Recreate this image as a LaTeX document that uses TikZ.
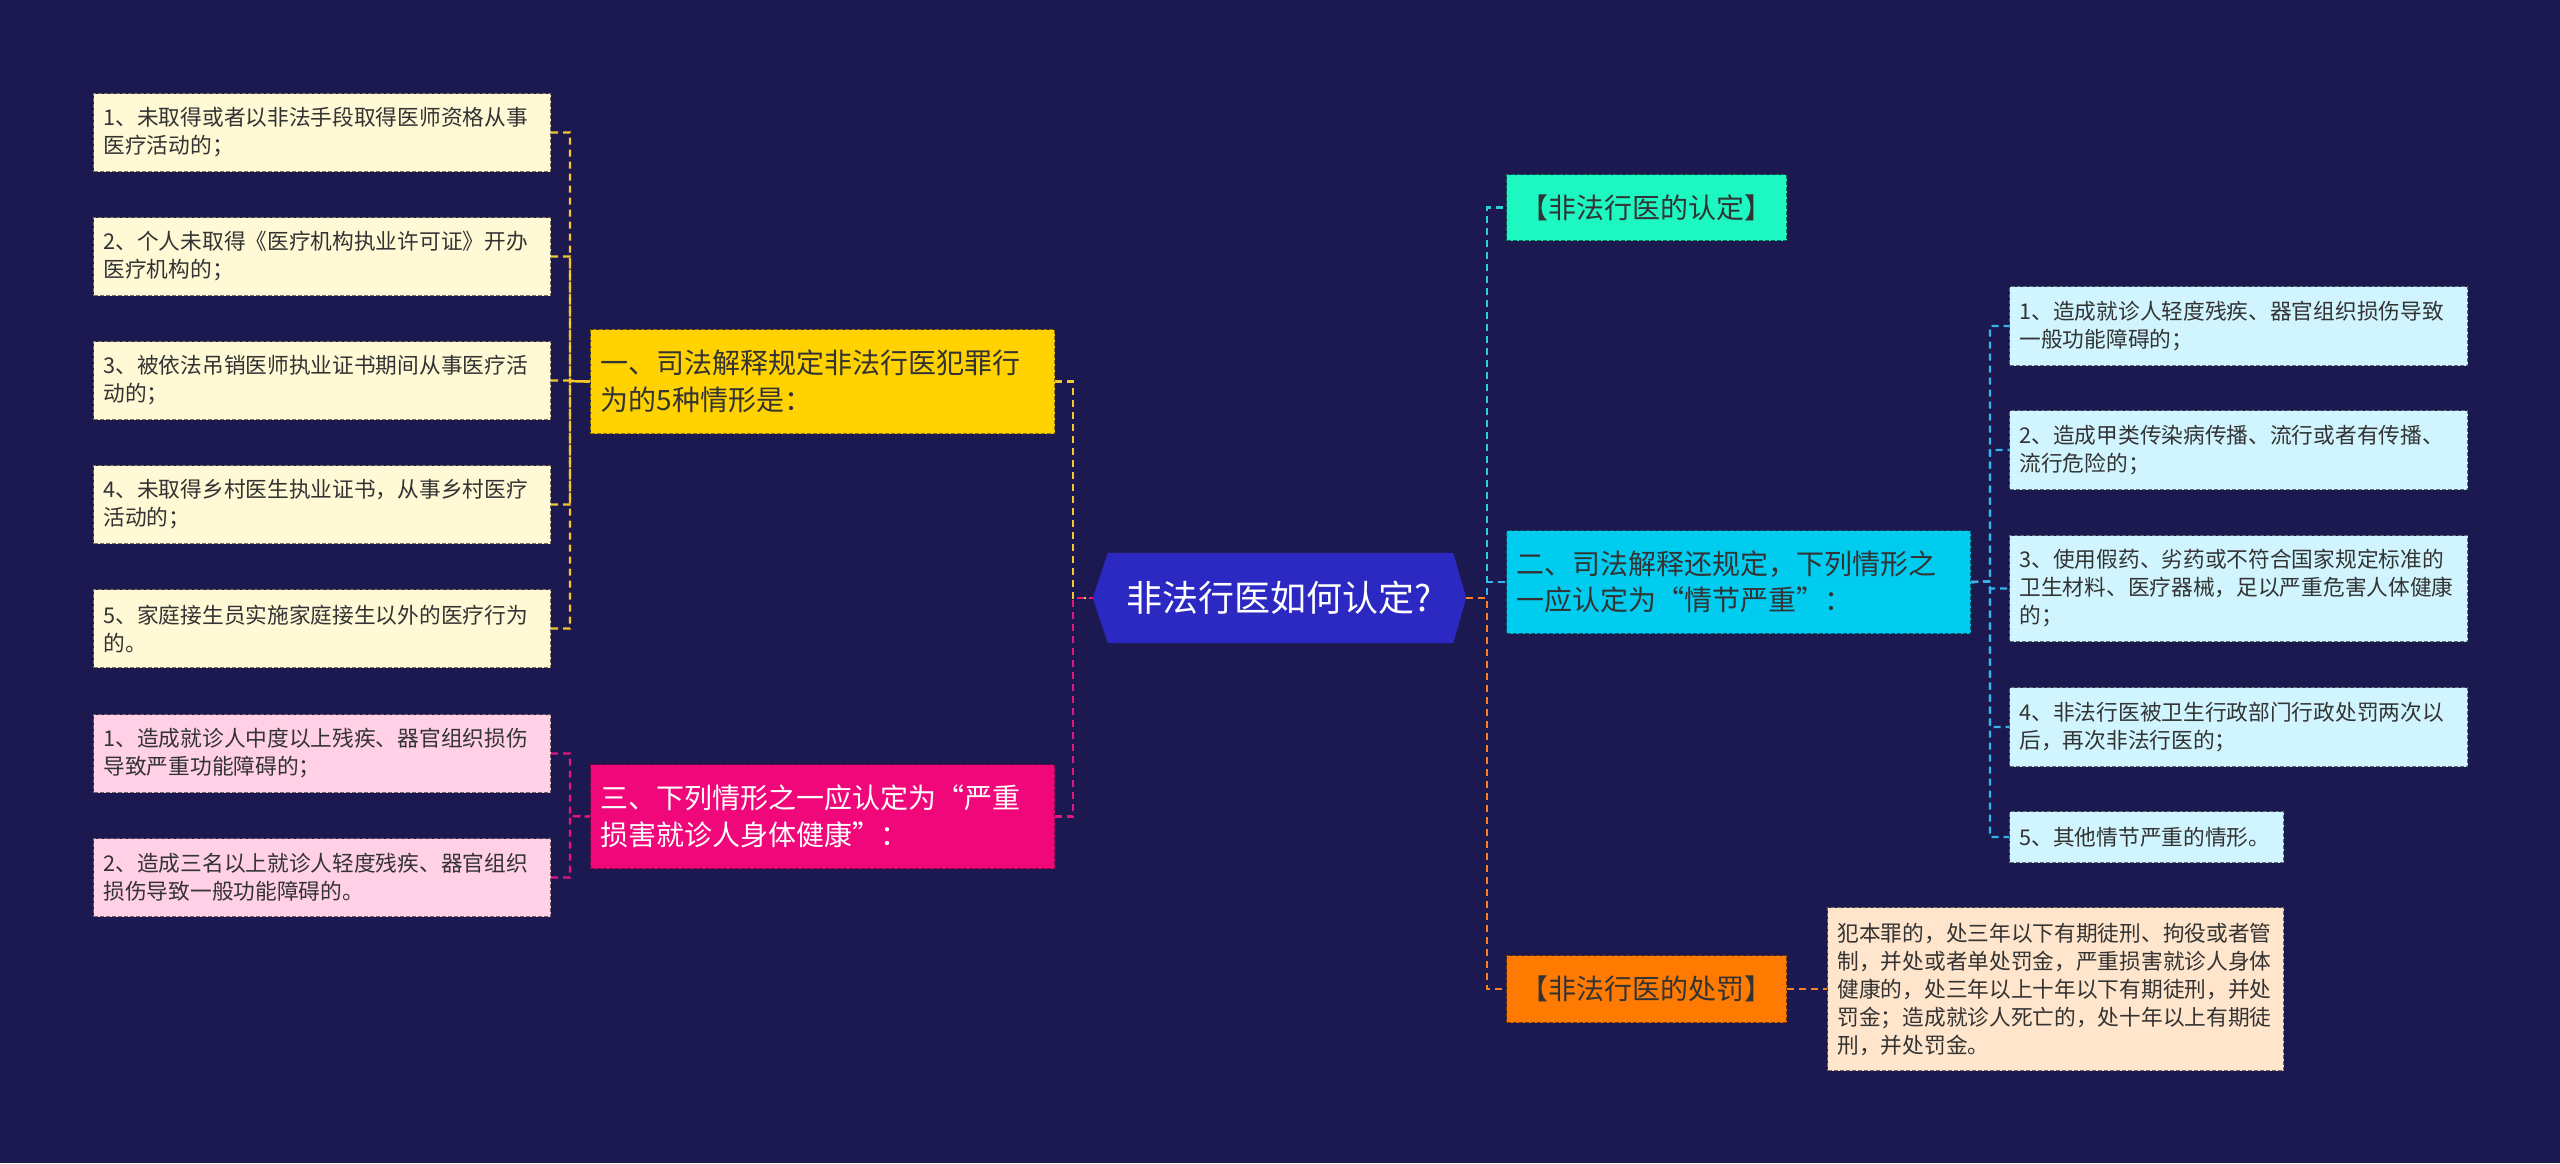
\documentclass[tikz,border=0pt]{standalone}
\usepackage{fontspec}
\setmainfont{Noto Sans CJK SC}
\usetikzlibrary{backgrounds}
\definecolor{bg}{RGB}{27,25,80}
\definecolor{txt}{RGB}{51,51,51}
\definecolor{cCenter}{RGB}{43,41,193}
\definecolor{fLeafY}{RGB}{255,249,214}
\definecolor{fMidY}{RGB}{255,210,0}
\definecolor{fMidP}{RGB}{240,8,122}
\definecolor{fLeafP}{RGB}{255,208,230}
\definecolor{fGreen}{RGB}{29,247,194}
\definecolor{fCyan}{RGB}{0,204,240}
\definecolor{fOrange}{RGB}{255,122,0}
\definecolor{fLeafC}{RGB}{208,245,255}
\definecolor{fPen}{RGB}{255,229,204}
\definecolor{lY}{RGB}{247,200,42}
\definecolor{lP}{RGB}{232,21,125}
\definecolor{lT}{RGB}{43,207,214}
\definecolor{lB}{RGB}{53,181,236}
\definecolor{lO}{RGB}{245,130,32}
\begin{document}
\begin{tikzpicture}[x=1pt,y=-1pt,
  conn/.style={line width=2.2pt, dash pattern=on 7pt off 5pt},
  yconn/.style={conn, draw=lY},
  pconn/.style={conn, draw=lP},
  tconn/.style={conn, draw=lT},
  bconn/.style={conn, draw=lB},
  oconn/.style={conn, draw=lO},
  bx/.style={anchor=north west, inner xsep=10pt, inner ysep=0pt, align=left,
    line width=1pt, dash pattern=on 4pt off 2pt},
  leaffont/.style={font=\fontsize{21.7}{28}\selectfont},
  midfont/.style={font=\fontsize{28}{36.5}\selectfont},
  leafY/.style={bx, leaffont, fill=fLeafY, draw=fLeafY!45!black, text=txt, text width=437pt, minimum height=78pt},
  leafP/.style={bx, leaffont, fill=fLeafP, draw=fLeafP!45!black, text=txt, text width=437pt, minimum height=78pt},
  leafC/.style={bx, leaffont, fill=fLeafC, draw=fLeafC!45!black, text=txt, text width=438pt, minimum height=79pt},
  midbox/.style={bx, midfont, text width=444pt, minimum height=104pt},
  tagbox/.style={bx, midfont, align=center, minimum width=280pt, minimum height=66pt},
]
\begin{scope}[on background layer]
\fill[bg] (0,0) rectangle (2560,1163);
\end{scope}
\useasboundingbox (0,0) rectangle (2560,1163);

% center
\node[minimum width=373pt, minimum height=90pt, inner sep=0pt, text=white,
  font=\fontsize{36}{40}\selectfont] (c) at (1279.5,598) {非法行医如何认定?};
\begin{scope}[on background layer]
\fill[cCenter] (c.west) -- ([xshift=15pt]c.north west) -- ([xshift=-13pt]c.north east)
  -- (c.east) -- ([xshift=-13pt]c.south east) -- ([xshift=15pt]c.south west) -- cycle;
\end{scope}

% left side
\node[midbox, fill=fMidY, draw=fMidY!55!black, text=txt] (y1) at (590,329)
  {一、司法解释规定非法行医犯罪行\\为的5种情形是：};
\node[midbox, fill=fMidP, draw=fMidP!55!black, text=white] (p1) at (590,764)
  {三、下列情形之一应认定为“严重\\损害就诊人身体健康”：};

\node[leafY] (ly1) at (93,93)  {1、未取得或者以非法手段取得医师资格从事\\医疗活动的；};
\node[leafY] (ly2) at (93,217) {2、个人未取得《医疗机构执业许可证》开办\\医疗机构的；};
\node[leafY] (ly3) at (93,341) {3、被依法吊销医师执业证书期间从事医疗活\\动的；};
\node[leafY] (ly4) at (93,465) {4、未取得乡村医生执业证书，从事乡村医疗\\活动的；};
\node[leafY] (ly5) at (93,589) {5、家庭接生员实施家庭接生以外的医疗行为\\的。};
\node[leafP] (pl1) at (93,714) {1、造成就诊人中度以上残疾、器官组织损伤\\导致严重功能障碍的；};
\node[leafP] (pl2) at (93,838) {2、造成三名以上就诊人轻度残疾、器官组织\\损伤导致一般功能障碍的。};

% right side
\node[tagbox, fill=fGreen, draw=fGreen!45!black, text=txt] (g) at (1506,174) {【非法行医的认定】};
\node[midbox, fill=fCyan, draw=fCyan!45!black, text=txt, minimum height=103pt] (cy) at (1506,530)
  {二、司法解释还规定，下列情形之\\一应认定为“情节严重”：};
\node[tagbox, fill=fOrange, draw=fOrange!45!black, text=txt, minimum height=67pt] (o) at (1506,955) {【非法行医的处罚】};

\node[leafC] (r1) at (2009,286) {1、造成就诊人轻度残疾、器官组织损伤导致\\一般功能障碍的；};
\node[leafC] (r2) at (2009,410) {2、造成甲类传染病传播、流行或者有传播、\\流行危险的；};
\node[leafC, minimum height=106pt] (r3) at (2009,535) {3、使用假药、劣药或不符合国家规定标准的\\卫生材料、医疗器械，足以严重危害人体健康\\的；};
\node[leafC] (r4) at (2009,687) {4、非法行医被卫生行政部门行政处罚两次以\\后，再次非法行医的；};
\node[leafC, text width=254pt, minimum height=51pt] (r5) at (2009,811) {5、其他情节严重的情形。};

\node[bx, leaffont, fill=fPen, draw=fPen!45!black, text=txt, text width=436pt, minimum height=163pt] (pen) at (1827,907)
  {犯本罪的，处三年以下有期徒刑、拘役或者管\\制，并处或者单处罚金，严重损害就诊人身体\\健康的，处三年以上十年以下有期徒刑，并处\\罚金；造成就诊人死亡的，处十年以上有期徒\\刑，并处罚金。};

% spine coordinates
\coordinate (sl) at (1073,598);
\coordinate (lsy) at (570,381);
\coordinate (lsp) at (570,816);
\coordinate (sr) at (1487,598);
\coordinate (srl) at (1990,581.5);

% connectors left
\draw[yconn] (y1.east) -| (sl) -- (c.west);
\draw[pconn] (p1.east) -| (sl) -- (c.west);
\foreach \n in {ly1,ly2,ly3,ly4,ly5} { \draw[yconn] (\n.east) -| (lsy) -- (y1.west); }
\foreach \n in {pl1,pl2} { \draw[pconn] (\n.east) -| (lsp) -- (p1.west); }

% connectors right
\draw[tconn] (c.east) -- (sr) |- (g.west);
\draw[bconn] (c.east) -- (sr) |- (cy.west);
\draw[oconn] (c.east) -- (sr) |- (o.west);
\foreach \n in {r1,r2,r3,r4,r5} { \draw[bconn] (cy.east) -- (srl) |- (\n.west); }
\draw[oconn] (o.east) -- (pen.west);
\end{tikzpicture}
\end{document}
